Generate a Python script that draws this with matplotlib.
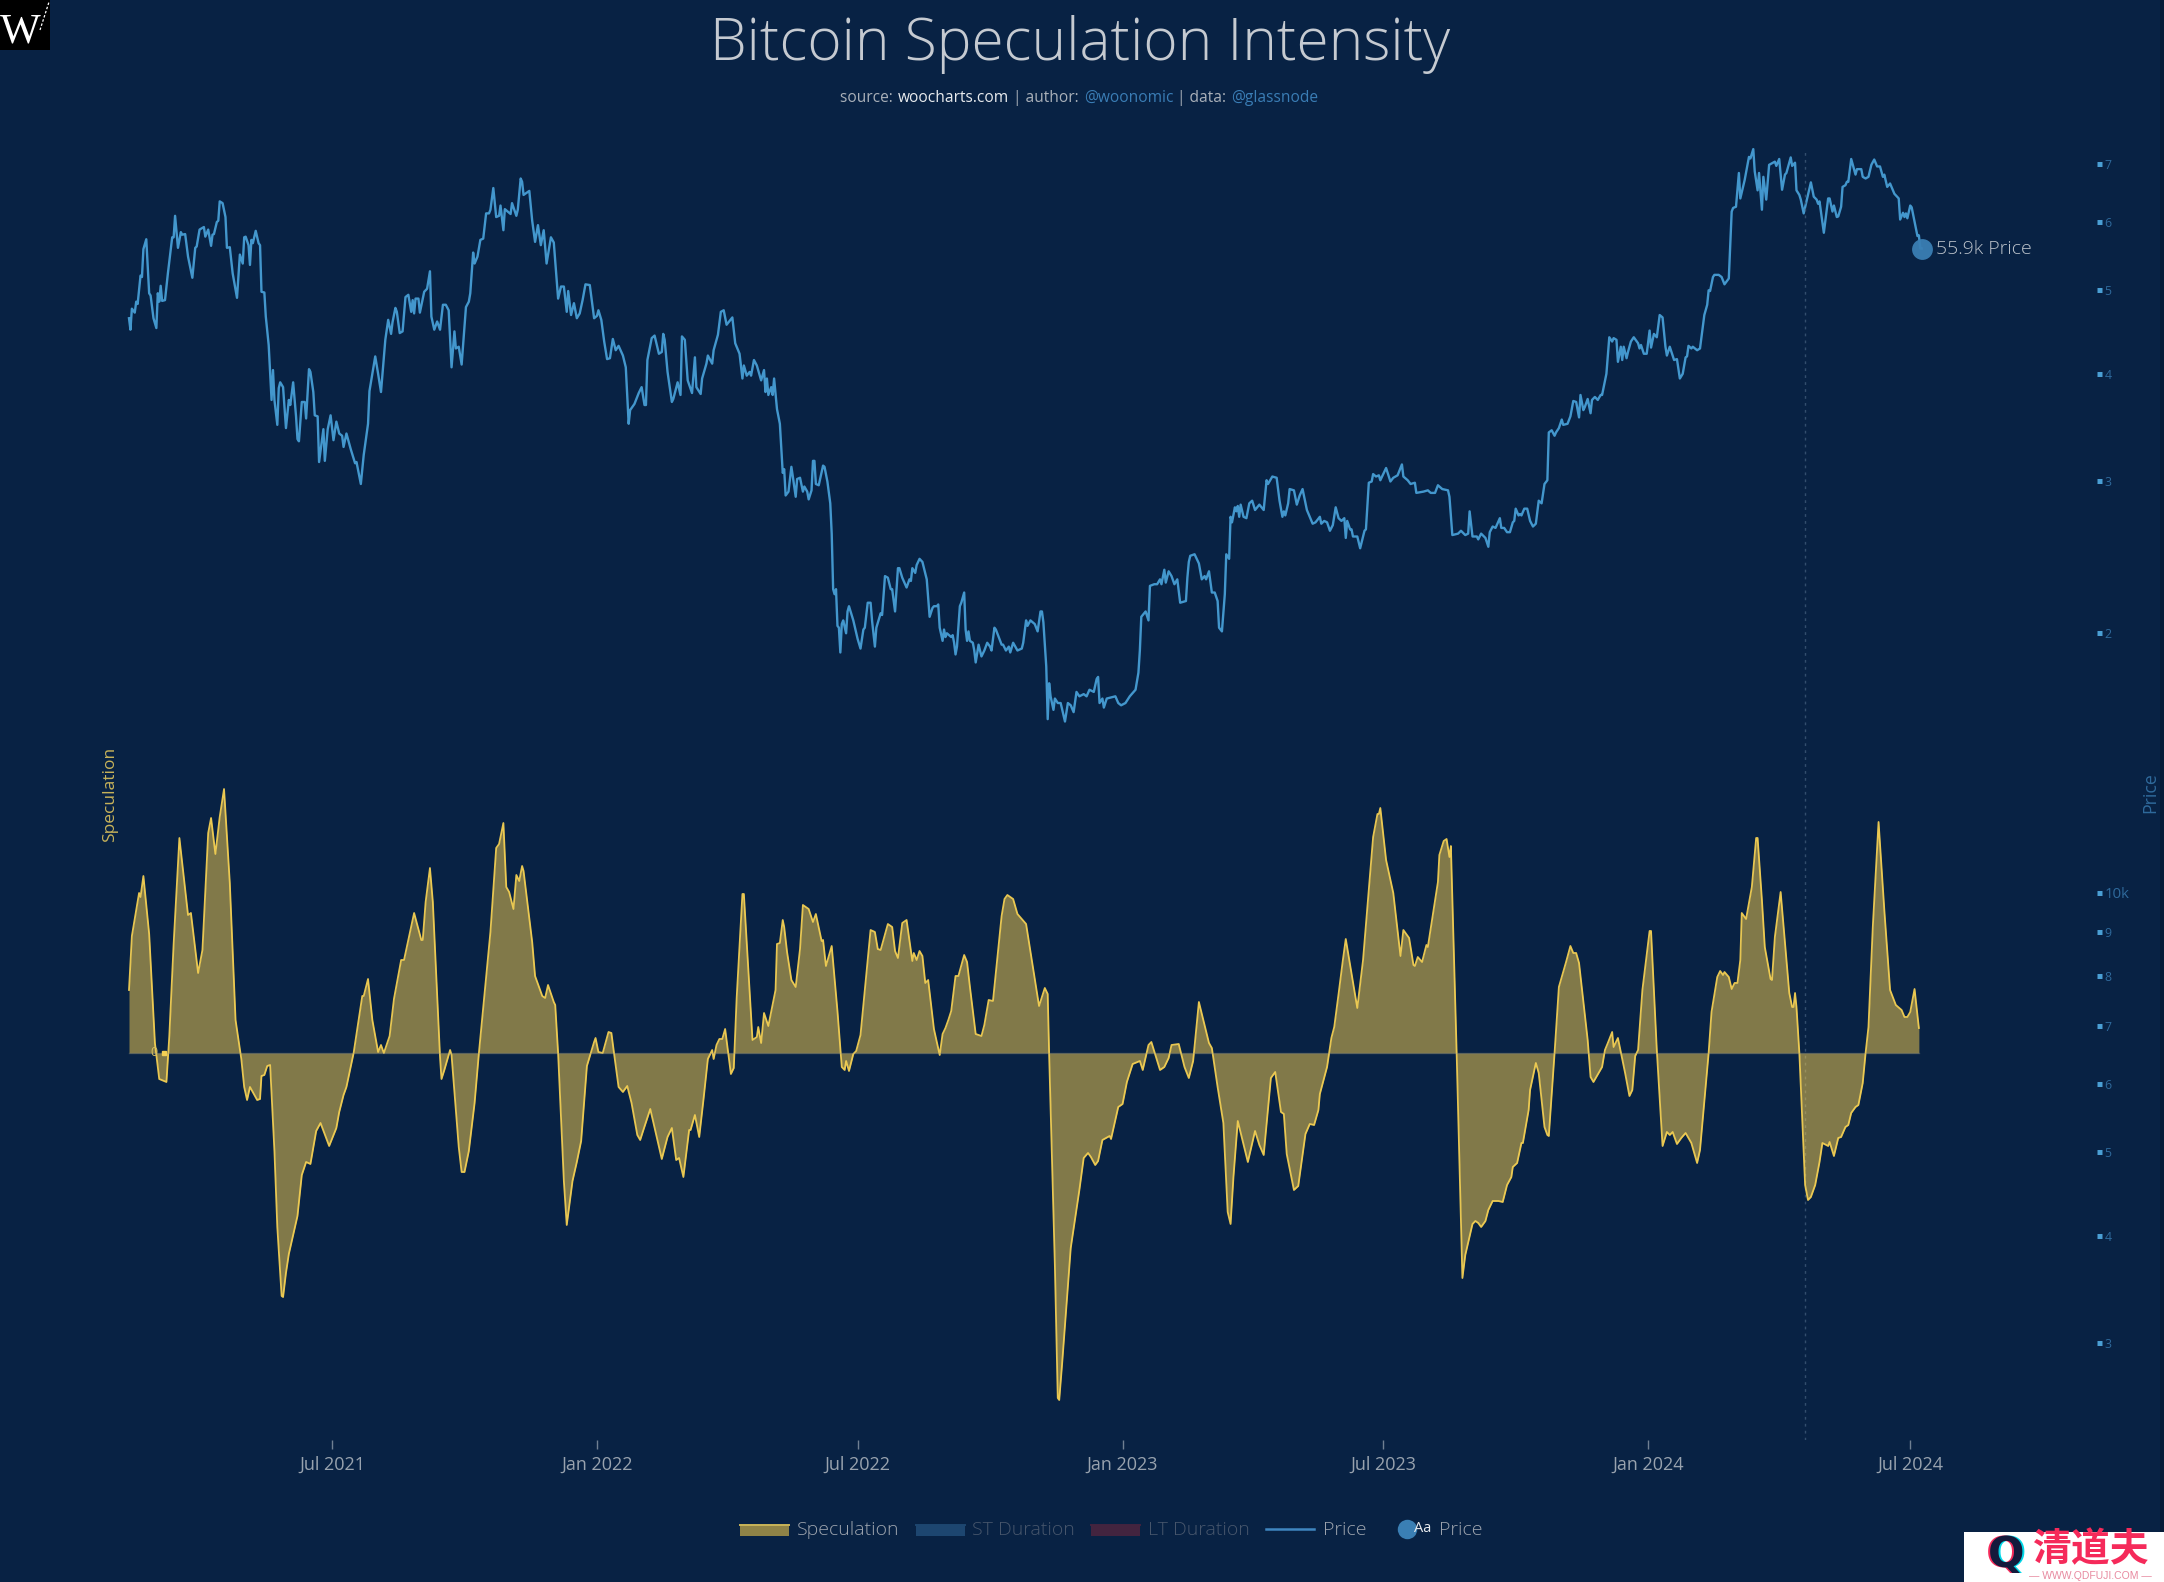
import matplotlib
matplotlib.use("Agg")
import matplotlib.pyplot as plt
from matplotlib.patches import Rectangle
import pandas as pd

W, H = 2164, 1582
BG = "#082244"
FONT = "Open Sans"
plt.rcParams["font.family"] = [FONT, "DejaVu Sans"]

START = pd.Timestamp("2021-02-10")

# days since START, price in thousand USD
price_days = [
    0, 1, 2, 4, 5, 6, 8, 9, 10, 12,
    14, 15, 17, 19, 20, 21, 22, 23, 25, 27,
    30, 31, 32, 34, 36, 37, 39, 41, 44, 46,
    47, 49, 52, 53, 55, 57, 58, 59, 61, 62,
    63, 65, 67, 68, 70, 72, 75, 77, 79, 80,
    81, 83, 84, 85, 86, 88, 90, 91, 92, 94,
    95, 97, 99, 100, 101, 103, 104, 105, 107, 109,
    111, 112, 114, 116, 117, 118, 120, 122, 123, 125,
    126, 128, 129, 131, 132, 135, 136, 138, 140, 142,
    144, 146, 148, 149, 151, 154, 157, 158, 161, 163,
    166, 167, 169, 171, 173, 175, 178, 180, 182, 183,
    185, 186, 188, 190, 192, 194, 196, 197, 198, 199,
    201, 202, 205, 207, 209, 210, 212, 214, 216, 218,
    220, 222, 224, 226, 227, 229, 231, 234, 236, 237,
    239, 240, 242, 244, 246, 248, 250, 251, 253, 255,
    257, 258, 260, 261, 265, 266, 269, 270, 272, 273,
    274, 278, 280, 282, 284, 286, 288, 290, 293, 295,
    298, 300, 302, 304, 305, 307, 309, 311, 313, 315,
    317, 320, 323, 325, 326, 328, 330, 332, 334, 336,
    338, 340, 343, 345, 347, 348, 351, 354, 356, 358,
    359, 360, 363, 365, 368, 370, 371, 372, 374, 377,
    378, 381, 383, 384, 386, 388, 391, 393, 394, 397,
    398, 401, 402, 405, 406, 409, 411, 413, 415, 419,
    421, 423, 424, 426, 427, 429, 431, 432, 434, 436,
    439, 441, 442, 443, 444, 446, 447, 448, 450, 452,
    454, 455, 456, 458, 460, 461, 463, 464,
    466, 468, 469, 471, 472, 474, 475, 476, 477, 479,
    482, 483, 485, 487, 488, 489, 490, 491, 492, 493,
    494, 495, 496, 498, 499, 500, 503, 506, 508, 510,
    511, 513, 515, 516, 518, 519, 522, 523, 525, 527,
    529, 530, 532, 534, 535, 537, 540, 542, 543, 544,
    546, 547, 549, 551, 554, 556, 558, 559, 561, 562,
    563, 565, 566, 567, 568, 571, 572, 573, 574, 575,
    577, 578, 580, 581, 582, 583, 584, 586, 587, 588,
    590, 592, 594, 596, 598, 599, 601, 602, 606, 607,
    609, 611, 612, 614, 617, 620, 621, 623, 624, 626,
    629, 631, 633, 634, 635, 637, 638, 639, 640, 642,
    643, 645, 647, 650, 652, 654, 656, 658, 660, 663,
    665, 667, 670, 672, 673, 674, 676, 677, 679, 685,
    687, 689, 692, 695, 699, 701, 702, 703, 706, 708,
    709, 712, 714, 716, 717, 719, 720, 722, 724, 726,
    728, 730, 734, 735, 736, 737, 740, 743, 745, 747,
    748, 750, 752, 754, 756, 757, 759, 761, 762, 764,
    765, 766, 768, 769, 770, 771, 772, 774, 776, 778,
    780, 782, 785, 788, 790, 791, 794, 797, 799, 801,
    802, 803, 805, 806, 809, 811, 813, 815, 818, 822,
    824, 827, 828, 830, 832, 834, 836, 838, 840, 842,
    844, 845, 846, 848, 849, 850, 853, 855, 858, 859,
    861, 863, 864, 866, 868, 869, 873, 876, 878, 881,
    884, 885, 888, 890, 893, 894, 899, 902, 904, 907,
    909, 912, 916, 917, 919, 923, 925, 928, 930, 931,
    933, 936,
    937, 939, 942, 944, 945, 947, 949, 952, 953, 955,
    957, 959, 961, 962, 963, 965, 966, 967, 969, 971,
    973, 975, 977, 979, 981, 983, 985, 986, 988, 990,
    991, 993, 995, 996, 999, 1001, 1003, 1005, 1007, 1008,
    1010, 1011, 1013, 1015, 1016, 1018, 1020, 1022, 1023, 1026,
    1028, 1030, 1031, 1033, 1034, 1036, 1037, 1038, 1040, 1041,
    1043, 1045, 1048, 1049, 1050, 1052, 1054, 1056, 1057, 1059,
    1061, 1063, 1065, 1067, 1068, 1070, 1073, 1075, 1077, 1079,
    1081, 1082, 1083, 1085, 1086, 1089, 1091, 1094, 1096, 1097,
    1098, 1100, 1101, 1104, 1106, 1108, 1111, 1113, 1114, 1116,
    1118, 1119, 1122, 1123, 1125, 1126, 1128, 1129, 1131, 1132,
    1134, 1135, 1137, 1139, 1141, 1143, 1144, 1146, 1148, 1150,
    1151, 1154, 1155, 1157, 1158, 1160, 1161, 1163, 1166, 1168,
    1170, 1172, 1173, 1174, 1177, 1180, 1181, 1183, 1184, 1186,
    1187, 1189, 1190, 1192, 1193, 1194, 1196, 1199, 1200, 1203,
    1204, 1206, 1208, 1210, 1212, 1214, 1216, 1218, 1219, 1221,
    1223, 1226, 1229, 1230, 1232, 1233, 1234, 1235, 1237, 1238,
    1242, 1243, 1244, 1245,
]
price_k = [
    46.4, 45.0, 47.6, 47.1, 48.5, 48.2, 52.0, 51.8, 55.8, 57.3,
    49.6, 49.3, 46.4, 45.2, 49.6, 48.5, 50.6, 48.6, 48.7, 52.3,
    57.6, 57.6, 61.0, 56.0, 58.4, 58.0, 58.1, 54.7, 51.7, 56.0,
    56.2, 58.8, 59.2, 57.7, 58.8, 56.3, 58.0, 58.1, 60.0, 60.2,
    63.4, 63.1, 60.8, 56.0, 56.1, 52.3, 49.0, 55.0, 53.7, 57.6,
    57.7, 56.4, 53.5, 57.2, 56.7, 58.6, 56.7, 56.4, 49.8, 49.7,
    46.6, 43.2, 37.3, 40.4, 37.3, 34.9, 38.5, 39.1, 38.6, 34.6,
    37.3, 36.8, 39.1, 35.7, 33.6, 33.4, 37.1, 37.1, 35.5, 40.5,
    40.2, 38.1, 35.8, 35.7, 31.6, 34.5, 31.7, 34.5, 35.8, 33.5,
    35.2, 34.1, 33.9, 32.9, 34.1, 32.7, 31.5, 31.6, 29.8, 32.2,
    35.0, 38.2, 40.0, 41.9, 40.0, 38.1, 43.8, 46.2, 44.5, 45.9,
    47.7, 47.2, 44.6, 44.8, 49.1, 49.4, 47.2, 48.7, 47.0, 48.9,
    48.9, 47.1, 49.8, 50.2, 52.6, 46.6, 45.0, 46.0, 45.0, 48.1,
    48.1, 47.4, 40.7, 44.8, 42.8, 43.0, 41.0, 47.8, 48.5, 49.6,
    55.3, 53.7, 54.7, 57.2, 57.4, 61.4, 61.4, 62.0, 65.7, 60.8,
    61.0, 62.7, 58.7, 62.1, 61.3, 63.1, 61.0, 62.0, 67.4, 66.8,
    64.5, 65.2, 60.2, 56.9, 59.5, 56.4, 58.7, 53.7, 57.6, 56.8,
    48.9, 50.5, 50.5, 47.2, 49.9, 46.8, 48.3, 46.4, 47.0, 48.7,
    50.8, 50.7, 46.4, 46.7, 47.4, 46.2, 43.6, 41.6, 41.7, 43.9,
    42.6, 43.1, 42.0, 40.7, 35.0, 36.3, 36.9, 38.0, 38.6, 36.8,
    36.8, 41.5, 44.0, 44.3, 42.2, 42.4, 44.5, 43.8, 40.2, 37.1,
    37.4, 39.1, 37.8, 44.2, 43.8, 39.3, 38.0, 41.8, 38.6, 37.9,
    39.5, 41.1, 42.0, 41.1, 42.6, 44.4, 47.2, 47.4, 45.6, 46.5,
    43.4, 42.6, 42.2, 39.5, 40.9, 39.8, 40.2, 39.8, 41.5, 40.9,
    39.3, 40.4, 38.1, 39.5, 37.8, 38.6, 37.8, 39.5, 36.4, 35.0,
    30.7, 31.0, 28.9, 29.2, 31.2, 30.4, 28.8, 30.2,
    30.3, 29.2, 29.6, 29.2, 28.6, 29.3, 31.7, 31.7, 29.8, 29.7,
    31.3, 31.2, 30.0, 28.3, 26.1, 22.5, 22.2, 22.5, 20.4, 20.3,
    19.0, 20.5, 20.7, 20.0, 21.2, 21.5, 20.7, 19.7, 19.2, 20.2,
    20.3, 21.7, 21.7, 20.7, 19.3, 20.3, 21.1, 21.0, 23.3, 23.2,
    22.5, 22.5, 21.2, 23.8, 23.8, 23.2, 22.6, 23.1, 23.0, 23.8,
    23.5, 24.0, 24.4, 24.2, 23.1, 20.9, 21.4, 21.5, 21.5, 21.6,
    20.3, 19.6, 20.2, 19.8, 20.0, 19.8, 19.9, 19.5, 18.9, 19.3,
    21.5, 21.7, 22.3, 20.2, 19.6, 20.1, 19.6, 19.5, 19.1, 18.5,
    19.4, 18.8, 19.1, 19.5, 19.3, 19.1, 20.3, 20.2, 19.4, 19.4,
    19.1, 19.3, 19.0, 19.5, 19.1, 19.2, 19.5, 20.7, 20.4, 20.7,
    20.5, 20.1, 21.2, 21.2, 20.6, 18.3, 15.9, 17.5, 16.9, 16.3,
    16.8, 16.6, 16.6, 15.8, 16.6, 16.5, 16.2, 17.1, 16.9, 17.0,
    16.9, 17.2, 17.1, 17.7, 17.8, 16.6, 16.8, 16.4, 16.8, 16.9,
    16.6, 16.5, 16.6, 16.9, 17.2, 18.0, 19.1, 20.9, 21.2, 20.7,
    22.7, 22.8, 22.8, 23.1, 22.8, 23.7, 22.9, 23.6, 23.3, 22.8,
    23.1, 21.7, 21.8, 23.2, 24.2, 24.6, 24.7, 24.1, 23.1, 23.3,
    23.1, 23.6, 22.3, 22.3, 21.8, 20.3, 20.1, 22.2, 24.7, 24.4,
    27.3, 26.9, 28.0, 27.7, 28.1, 27.3, 28.2, 27.3, 27.2, 28.3,
    28.5, 27.8, 28.2, 27.8, 30.1, 29.8, 30.4, 30.3, 28.5, 27.3,
    27.7, 27.4, 28.3, 29.4, 29.3, 28.2, 28.9, 29.4, 27.8, 26.8,
    26.9, 27.3, 26.8, 27.0, 26.9, 26.3, 26.7, 28.0, 27.2, 27.0,
    27.2, 25.8, 27.0, 26.4, 26.4, 25.9, 25.9, 25.1, 26.3, 26.4,
    29.9, 30.0, 30.6, 30.4, 30.5, 30.1, 31.1, 30.0, 30.3, 30.5,
    31.4, 30.4, 30.1, 29.8, 29.9, 29.1, 29.2, 29.3, 29.1, 29.1,
    29.7, 29.4, 29.3, 28.8, 26.0, 26.1, 26.3, 26.0, 26.1, 27.7,
    25.9, 25.9,
    25.7, 26.1, 25.8, 25.2, 26.2, 26.6, 26.5, 27.2, 26.5, 26.5,
    26.2, 26.2, 26.9, 27.0, 27.9, 27.4, 27.5, 27.4, 27.9, 27.9,
    27.0, 26.6, 26.8, 28.5, 28.3, 29.8, 30.1, 34.2, 34.4, 33.9,
    34.2, 34.6, 35.4, 34.9, 35.0, 35.7, 37.2, 37.1, 35.6, 37.8,
    36.3, 36.6, 37.4, 36.0, 37.3, 37.6, 37.3, 37.8, 37.8, 40.0,
    44.1, 43.6, 44.0, 43.8, 41.3, 43.0, 41.5, 43.0, 41.7, 42.4,
    43.6, 44.1, 43.4, 42.8, 43.2, 42.2, 42.2, 44.9, 42.9, 44.5,
    44.1, 46.8, 46.5, 43.0, 42.0, 43.0, 41.5, 41.6, 39.5, 40.0,
    41.8, 41.9, 43.1, 42.8, 43.0, 42.6, 42.8, 46.8, 48.1, 50.0,
    49.9, 51.8, 52.1, 52.1, 51.8, 50.8, 51.6, 61.7, 62.3, 62.5,
    68.4, 63.9, 67.1, 68.5, 71.4, 71.1, 72.9, 68.7, 65.3, 68.4,
    62.0, 67.7, 63.7, 69.9, 70.2, 70.5, 69.7, 71.0, 65.4, 68.1,
    68.4, 71.3, 69.7, 70.3, 65.3, 64.5, 63.7, 61.4, 64.5, 66.7,
    64.2, 63.7, 63.0, 63.4, 58.3, 63.9, 63.9, 61.7, 62.7, 60.8,
    60.9, 62.5, 65.9, 66.2, 66.8, 66.8, 71.0, 68.1, 69.1, 69.1,
    67.7, 67.4, 67.7, 69.9, 70.9, 69.6, 69.6, 67.7, 68.1, 65.9,
    66.5, 64.7, 63.9, 60.4, 61.5, 60.8, 61.4, 60.6, 62.7, 62.4,
    57.8, 57.9, 55.9, 55.9,
]

# speculation has no scale in the chart, so these are plain relative units
spec_days = [
    0, 2, 7, 8, 10, 14, 18, 19, 21, 26, 28, 31, 35, 41, 43, 48, 51, 55, 57, 60,
    63, 66, 70, 74, 78, 80, 82, 84, 89, 91, 92, 94, 96, 98, 101, 103, 106, 107, 109, 111,
    117, 120, 123, 126, 130, 133, 139, 144, 146, 149, 151, 156, 162, 163, 166, 169, 173, 175, 177, 181,
    184, 189, 191, 198, 203, 204, 206, 209, 211, 216, 217, 219, 223, 224, 229, 231, 233, 236, 240, 243,
    251, 255, 257, 260, 262, 264, 267, 269, 271, 273, 274, 280, 282, 287, 289, 291, 295, 296, 298, 302,
    304, 308, 311, 314, 318, 323, 324, 326, 329, 333, 335, 337, 340, 343, 346, 349, 353, 355, 357, 360,
    362, 370, 374, 377, 380, 382, 385, 389, 390, 393, 396, 399, 402, 405, 406, 408, 410, 412, 414, 418,
    420, 422, 426, 427, 433, 436, 437, 439, 441, 444, 449, 450, 452, 454, 455, 457, 460, 463,
    466, 468, 472, 475, 477, 481, 482, 484, 488, 492, 495, 497, 498, 500, 503, 505, 508, 515, 518, 520,
    522, 527, 530, 532, 534, 537, 540, 544, 545, 547, 549, 551, 553, 555, 559, 563, 565, 567, 569, 571,
    574, 576, 580, 582, 584, 588, 592, 594, 597, 600, 606, 608, 610, 614, 617, 623, 632, 636, 638, 639,
    643, 645, 646, 648, 654, 660, 663, 666, 668, 671, 673, 676, 681, 682, 687, 690, 693, 697, 702, 704,
    708, 710, 716, 719, 722, 724, 729, 733, 736, 739, 743, 750, 752, 756, 760, 763, 765, 767, 770, 777,
    782, 785, 788, 793, 796, 800, 802, 804, 809, 812, 817, 820, 823, 826, 827, 832, 835, 837, 840, 843,
    845, 853, 857, 864, 867, 868, 869, 873, 878, 883, 885, 889, 892, 893, 895, 898, 901, 902, 909, 910,
    913, 915, 917, 918, 922, 926, 928, 933, 935, 937, 939, 942, 944, 947, 951,
    954, 957, 960, 961, 964, 967, 968, 972, 973, 977, 979, 983, 985, 986, 990, 993, 998, 1001, 1003, 1005,
    1007, 1013, 1015, 1017, 1019, 1023, 1025, 1027, 1030, 1031, 1034, 1039, 1042, 1044, 1046, 1048, 1051, 1056, 1057, 1061,
    1065, 1068, 1070, 1072, 1075, 1078, 1081, 1085, 1089, 1091, 1097, 1099, 1103, 1105, 1107, 1108, 1111, 1113, 1115, 1117,
    1119, 1120, 1123, 1127, 1130, 1131, 1134, 1136, 1140, 1141, 1143, 1147, 1153, 1155, 1156, 1157, 1158, 1160, 1164, 1166,
    1168, 1171, 1174, 1176, 1180, 1181, 1184, 1187, 1189, 1192, 1194, 1196, 1199, 1201, 1204, 1206, 1208, 1211, 1215, 1219,
    1223, 1227, 1231, 1233, 1235, 1237, 1240, 1243,
]
spec_vals = [
    63, 117, 160, 156, 177, 119, 10, -2, -26, -29, 17, 109, 215, 138, 140, 80, 103, 220, 235, 199,
    236, 264, 170, 33, -6, -34, -47, -34, -47, -46, -23, -22, -13, -12, -98, -174, -243, -244, -220, -201,
    -163, -122, -109, -111, -78, -70, -93, -75, -59, -42, -34, 0, 57, 57, 74, 33, 1, 8, 0, 17,
    54, 93, 93, 140, 113, 113, 151, 185, 151, -4, -26, -17, 3, -2, -94, -119, -119, -98, -50, 0,
    121, 205, 209, 230, 166, 161, 144, 178, 172, 187, 182, 111, 77, 57, 55, 68, 51, 48, 0, -128,
    -172, -128, -109, -88, -13, 11, 15, 1, 0, 21, 20, -2, -34, -39, -33, -50, -82, -87, -78, -65,
    -56, -106, -84, -75, -107, -105, -124, -77, -77, -62, -84, -46, -6, 3, -6, 8, 14, 14, 24, -21,
    -15, 55, 159, 159, 13, 16, 26, 10, 40, 27, 63, 109, 110, 133, 126, 101, 73, 66,
    104, 148, 144, 131, 139, 112, 113, 87, 107, 42, -14, -17, -8, -18, -1, 2, 18, 123, 121, 104,
    103, 129, 126, 102, 95, 130, 133, 92, 100, 93, 102, 97, 70, 73, 24, -2, 19, 25, 33, 42,
    77, 77, 98, 91, 66, 19, 17, 28, 53, 52, 137, 154, 158, 154, 139, 129, 47, 65, 59, -1,
    -213, -345, -347, -311, -195, -137, -105, -100, -104, -112, -108, -87, -83, -86, -54, -51, -29, -11, -8, -17,
    8, 11, -17, -14, -5, 8, 9, -14, -25, -8, 51, 10, 5, -34, -70, -159, -171, -124, -68, -109,
    -78, -92, -102, -25, -19, -59, -61, -101, -137, -133, -81, -71, -72, -57, -41, -14, 15, 26, 59, 93,
    114, 45, 93, 216, 239, 239, 245, 193, 160, 97, 123, 115, 88, 87, 96, 91, 108, 106, 171, 198,
    212, 214, 196, 207, 0, -225, -202, -171, -168, -170, -174, -168, -157, -148, -148,
    -149, -132, -124, -114, -110, -90, -90, -57, -37, -10, -20, -74, -82, -83, 0, 66, 91, 107, 100, 100,
    90, 13, -24, -29, -24, -14, 3, 10, 21, 6, 15, -20, -43, -37, -3, 3, 63, 122, 122, 3,
    -93, -79, -82, -79, -91, -85, -80, -90, -110, -97, 0, 41, 76, 82, 78, 81, 76, 64, 70, 70,
    93, 140, 134, 166, 215, 215, 153, 106, 74, 73, 116, 161, 60, 46, 46, 60, 46, 0, -132, -147,
    -144, -132, -109, -90, -93, -89, -103, -85, -84, -74, -72, -60, -54, -52, -30, 0, 26, 126, 231, 143,
    63, 48, 43, 36, 36, 41, 64, 25,
]

price_ticks = [3000, 4000, 5000, 6000, 7000, 8000, 9000, 10000,
               20000, 30000, 40000, 50000, 60000, 70000]
price_tick_labels = ["3", "4", "5", "6", "7", "8", "9", "10k",
                     "2", "3", "4", "5", "6", "7"]
date_ticks = ["2021-07-01", "2022-01-01", "2022-07-01", "2023-01-01",
              "2023-07-01", "2024-01-01", "2024-07-01"]
date_tick_labels = ["Jul 2021", "Jan 2022", "Jul 2022", "Jan 2023",
                    "Jul 2023", "Jan 2024", "Jul 2024"]
halving_date = "2024-04-19"
last_price_label = "55.9k Price"


def to_dates(days):
    return START + pd.to_timedelta(days, unit="D")


def seq_text(ax, x, y, parts, size):
    # draw coloured runs one after the other, measuring each one
    r = ax.figure.canvas.get_renderer()
    for s, c in parts:
        t = ax.text(x, y, s, color=c, fontsize=size, va="center", ha="left")
        x += t.get_window_extent(r).width
        if s.endswith(" "):
            x += size * 0.1
    return x


fig = plt.figure(figsize=(W / 100, H / 100), dpi=100, facecolor=BG)

# plotting area in pixels: x 100..2097, y 100..1440
rect = [100 / W, 1 - 1440 / H, 1997 / W, 1340 / H]
ax = fig.add_axes(rect, facecolor="none")
ax2 = fig.add_axes(rect, facecolor="none", sharex=ax)

p_dates = to_dates(price_days)
s_dates = to_dates(spec_days)

ax2.fill_between(s_dates, 0, spec_vals, color="#fbd14e", alpha=0.5, lw=0)
ax2.plot(s_dates, spec_vals, color="#f3cf53", lw=1.3, alpha=0.95)
ax2.plot([s_dates[0], s_dates[-1]], [0, 0], color="#9a9a90", lw=1.0, alpha=0.3)
ax2.plot(to_dates([24]), [0], marker="s", ms=3.5, color="#f3cf53", ls="none")
ax2.text(to_dates([17])[0], 0, "0", color="#d8c060", fontsize=9, ha="center", va="center")
ax2.set_ylim(-387, 953)
ax2.axis("off")

ax.plot(p_dates, [v * 1000 for v in price_k], color="#4397cd", lw=1.7)
ax.plot(p_dates[-1:], [price_k[-1] * 1000], marker="o", ms=15, color="#3a7fb4",
        alpha=0.95, ls="none", mew=0)
ax.annotate(last_price_label, (p_dates[-1], price_k[-1] * 1000), xytext=(10, 0),
            textcoords="offset points", color="#bcc3cb", fontsize=14, va="center",
            fontweight="light")
ax.axvline(pd.Timestamp(halving_date), ymin=0, ymax=(1440 - 149) / 1340,
           color="#3f5a78", lw=1, ls=(0, (2, 3)), alpha=0.8)

ax.set_yscale("log")
ax.set_ylim(2318, 83120)
ax.set_xlim(to_dates([-20.14])[0], to_dates([1366.7])[0])
ax.yaxis.tick_right()
ax.set_yticks(price_ticks)
ax.set_yticklabels(price_tick_labels)
ax.minorticks_off()
ax.tick_params(axis="y", length=3.4, width=3.6, color="#4a9fd4", labelcolor="#2f6a9c",
               labelsize=8.8, pad=2, direction="out")
for lab, val in zip(ax.get_yticklabels(), price_ticks):
    if val == 10000:
        lab.set_fontsize(10.8)
ax.set_xticks(pd.to_datetime(date_ticks))
ax.set_xticklabels(date_tick_labels)
ax.tick_params(axis="x", length=6.5, width=1, color="#6f7f92", labelcolor="#98a2ae",
               labelsize=13, pad=5)
for sp in ax.spines.values():
    sp.set_visible(False)

# everything around the plot, in image pixels
ov = fig.add_axes([0, 0, 1, 1], facecolor="none")
ov.set_xlim(0, W)
ov.set_ylim(H, 0)
ov.axis("off")

ov.text(1080, 44, "Bitcoin Speculation Intensity", color="#c5cad1", fontsize=42.2,
        ha="center", va="center", fontweight="light")
GREY, WHITE, BLUE = "#a9b0b9", "#e8ebee", "#3a7db5"
fig.canvas.draw()
seq_text(ov, 840, 98, [("source: ", GREY), ("woocharts.com", WHITE), (" | author: ", GREY),
                       ("@woonomic", BLUE), (" | data: ", GREY), ("@glassnode", BLUE)], 11.2)

ov.text(110, 794, "Speculation", color="#c8b35a", fontsize=12.5, rotation=90,
        ha="center", va="center")
ov.text(2150, 793, "Price", color="#2f6a9c", fontsize=12.8, rotation=90,
        ha="center", va="center")

# hand made legend
swatches = [(740, "#8f8347", "#c9b458", "Speculation", "#9da4ae", 797),
            (916, "#1d4670", "#1d4670", "ST Duration", "#47566c", 972),
            (1091, "#43243f", "#43243f", "LT Duration", "#47566c", 1148)]
for x0, fc, top, name, tc, tx in swatches:
    ov.add_patch(Rectangle((x0, 1525), 49, 11, color=fc, lw=0))
    ov.plot([x0, x0 + 49], [1525, 1525], color=top, lw=1.4)
    ov.text(tx, 1530, name, color=tc, fontsize=14, va="center", fontweight="light")
ov.plot([1266, 1314], [1529, 1529], color="#3f86c0", lw=1.8)
ov.text(1323, 1530, "Price", color="#9da4ae", fontsize=14, va="center", fontweight="light")
ov.plot([1407], [1529], marker="o", ms=14, color="#3a7fb4", mew=0)
ov.text(1423, 1528, "Aa", color="#e8ebee", fontsize=10.5, va="center", ha="center")
ov.text(1439, 1530, "Price", color="#9da4ae", fontsize=14, va="center", fontweight="light")

# logo top left
ov.add_patch(Rectangle((0, 0), 50, 50, color="black", lw=0))
ov.text(20, 32, "W", color="white", fontsize=31, family="Liberation Serif",
        ha="center", va="center")
ov.plot([40, 49], [30, 2], color="white", lw=0.9, ls=(0, (2, 1.5)))

# darker strip on the right edge, under the watermark
ov.add_patch(Rectangle((2160, 0), 4, H, color="#051a36", lw=0))

# watermark bottom right
ov.add_patch(Rectangle((1964, 1532), 200, 50, color="white", lw=0))
ov.text(2008, 1555, "Q", color="#00d8e8", fontsize=31, fontweight="bold",
        family="DejaVu Sans", ha="center", va="center")
ov.text(2004, 1555, "Q", color="#f52a5a", fontsize=31, fontweight="bold",
        family="DejaVu Sans", ha="center", va="center")
ov.text(2006, 1555, "Q", color="#141a3c", fontsize=31, fontweight="bold",
        family="DejaVu Sans", ha="center", va="center")
ov.text(2090, 1550, "清道夫", color="#f52a5a", fontsize=28, fontweight="bold",
        family="Noto Sans CJK SC", ha="center", va="center")
ov.text(2090, 1576, "— WWW.QDFUJI.COM —", color="#e88aa0", fontsize=7.5,
        family="Liberation Sans", ha="center", va="center")

fig.savefig("out.png", dpi=100, facecolor=BG)
